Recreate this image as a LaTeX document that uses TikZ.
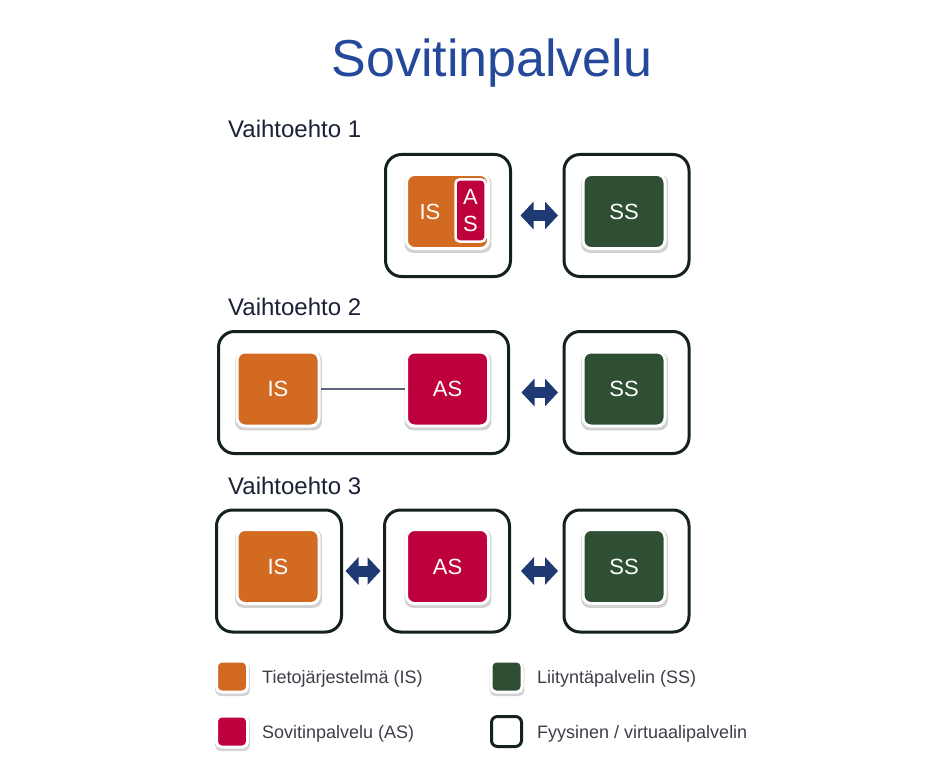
\documentclass[tikz,border=0pt]{standalone}
\usepackage{fontspec}
\setmainfont{Liberation Sans}
\usetikzlibrary{arrows.meta,shadows}

\definecolor{titleblue}{HTML}{24489A}
\definecolor{isorange}{HTML}{D36A22}
\definecolor{asred}{HTML}{BE003C}
\definecolor{ssgreen}{HTML}{2E4F34}
\definecolor{framedark}{HTML}{142219}
\definecolor{arrownavy}{HTML}{1F3A72}
\definecolor{headdark}{HTML}{1B2136}
\definecolor{legendgray}{HTML}{3C3F4A}
\definecolor{wiregray}{HTML}{5B6478}

\begin{document}
\begin{tikzpicture}[x=1pt,y=-1pt,
    server/.style={draw=framedark, line width=3pt, rounded corners=16pt,
        minimum width=125pt, minimum height=122pt},
    unit/.style={draw=white, line width=3pt, rounded corners=8pt,
        minimum width=82pt, minimum height=74pt, text=white,
        font=\fontsize{22}{26}\selectfont,
        drop shadow={opacity=0.35, shadow scale=1.06, shadow xshift=0.5pt, shadow yshift=-2pt}},
    keysq/.style={draw=white, line width=3pt, rounded corners=5pt, minimum size=31pt,
        drop shadow={opacity=0.35, shadow scale=1.12, shadow xshift=0.5pt, shadow yshift=-2pt}},
    link/.style={arrownavy, line width=11pt,
        arrows={Triangle[width=27pt,length=13pt]-Triangle[width=27pt,length=13pt]}},
    heading/.style={anchor=base west, inner sep=0pt, text=headdark, font=\fontsize{24}{28}\selectfont},
    keytext/.style={anchor=base west, inner sep=0pt, text=legendgray, font=\fontsize{18}{22}\selectfont}]

    \fill[white] (0,0) rectangle (950,762);
    \useasboundingbox (0,0) rectangle (950,762);

    \node[anchor=base, text=titleblue, font=\fontsize{52}{60}\selectfont] (title) at (492,77) {Sovitinpalvelu};

    % Vaihtoehto 1
    \node[heading] (head1) at (228,138) {Vaihtoehto 1};
    \node[server] (srv1a) at (448,215.5) {};
    \node[server] (srv1b) at (626.5,215.5) {};
    \node[unit, fill=isorange] (is1) at (447.5,211.5) {};
    \node[text=white, font=\fontsize{22}{26}\selectfont] (is1txt) at (430,212) {IS};
    \node[draw=white, line width=2.5pt, fill=asred, rounded corners=4pt, minimum width=30pt,
        minimum height=62pt, inner sep=0pt, text=white, align=center,
        font=\fontsize{22}{27}\selectfont] (as1) at (470.5,210.5) {A\\S};
    \node[unit, fill=ssgreen] (ss1) at (624,211.5) {SS};
    \draw[link, shorten <=8.5pt, shorten >=4.5pt] (srv1a.east) -- (srv1b.west);

    % Vaihtoehto 2
    \node[heading] (head2) at (228,315) {Vaihtoehto 2};
    \node[server, minimum width=290pt] (srv2a) at (363.5,392.5) {};
    \node[server] (srv2b) at (626.5,392.5) {};
    \node[unit, fill=isorange] (is2) at (278,389) {IS};
    \node[unit, fill=asred] (as2) at (447.5,389) {AS};
    \node[unit, fill=ssgreen] (ss2) at (624,389) {SS};
    \draw[wiregray, line width=1.5pt] (is2.east) -- (as2.west);
    \draw[link, shorten <=11.5pt, shorten >=4.5pt] (srv2a.east) -- (srv2b.west);

    % Vaihtoehto 3
    \node[heading] (head3) at (228,494) {Vaihtoehto 3};
    \node[server] (srv3a) at (279,571) {};
    \node[server] (srv3b) at (447,571) {};
    \node[server] (srv3c) at (626.5,571) {};
    \node[unit, fill=isorange] (is3) at (278,566.5) {IS};
    \node[unit, fill=asred] (as3) at (447.5,566.5) {AS};
    \node[unit, fill=ssgreen] (ss3) at (624,566.5) {SS};
    \draw[link, shorten <=2.5pt, shorten >=2.5pt] (srv3a.east) -- (srv3b.west);
    \draw[link, shorten <=10pt, shorten >=4.5pt] (srv3b.east) -- (srv3c.west);

    % selitteet
    \node[keysq, fill=isorange] (keyis) at (232,676.5) {};
    \node[keysq, fill=asred] (keyas) at (232,731.5) {};
    \node[keysq, fill=ssgreen] (keyss) at (506.5,676.5) {};
    \node[draw=framedark, fill=white, line width=3pt, rounded corners=6pt, minimum size=30pt] (keysrv) at (506.5,731.5) {};
    \node[keytext] (txtis) at (262,683) {Tietojärjestelmä (IS)};
    \node[keytext] (txtas) at (262,738) {Sovitinpalvelu (AS)};
    \node[keytext] (txtss) at (537,683) {Liityntäpalvelin (SS)};
    \node[keytext] (txtsrv) at (537,738) {Fyysinen / virtuaalipalvelin};
\end{tikzpicture}
\end{document}
